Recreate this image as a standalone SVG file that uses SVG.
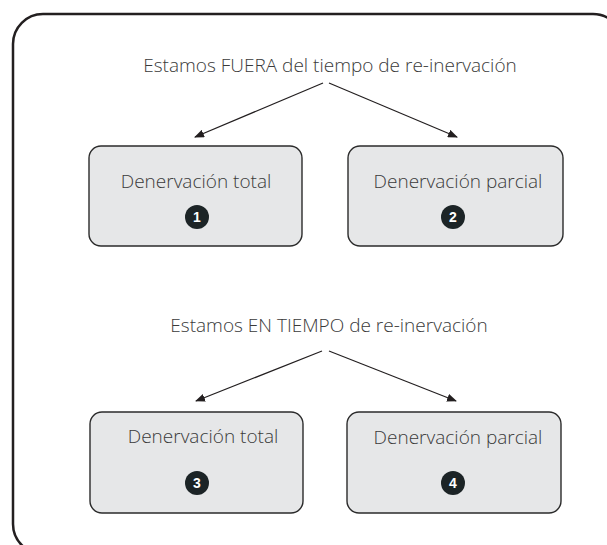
<svg xmlns="http://www.w3.org/2000/svg" width="607" height="545" viewBox="0 0 607 545">
<style>
.frame{fill:none;stroke:#231f20;stroke-width:2.5}
.box{fill:#e6e7e8;stroke:#2b2b2b;stroke-width:1.4}
.lbl{font-family:"Open Sans","Noto Sans",sans-serif;font-weight:300;fill:#3a3a3a;text-anchor:middle}
.t{font-size:19px}
.b{font-size:19px}
.dot{fill:#1c2426}
.num{font-family:"Liberation Sans",Arial,sans-serif;font-weight:bold;font-size:14px;fill:#fff;text-anchor:middle}
.con{stroke:#231f20;stroke-width:1.2;fill:none;marker-end:url(#ah)}
</style>
<defs>
<marker id="ah" viewBox="0 0 10 8" refX="9" refY="4" markerWidth="10" markerHeight="8" markerUnits="userSpaceOnUse" orient="auto">
<path d="M0,0 L10,4 L0,8 Z" fill="#231f20"/>
</marker>
</defs>
<rect class="frame" x="13" y="14" width="610" height="540" rx="30"/>
<g id="title1"><text class="lbl t" x="330" y="72">Estamos FUERA del tiempo de re-inervación</text></g>
<g id="title2"><text class="lbl t" x="329" y="332">Estamos EN TIEMPO de re-inervación</text></g>
<g id="connectors">
<line class="con" x1="323" y1="83" x2="195" y2="137"/>
<line class="con" x1="329" y1="83" x2="457" y2="137"/>
<line class="con" x1="322" y1="351" x2="196" y2="401"/>
<line class="con" x1="329" y1="351" x2="456" y2="401"/>
</g>
<g id="node1">
<rect class="box" x="89" y="146" width="213" height="100" rx="12"/>
<text class="lbl b" x="196" y="188">Denervación total</text>
<circle class="dot" cx="197" cy="217" r="12"/>
<text class="num" x="197" y="222">1</text>
</g>
<g id="node2">
<rect class="box" x="348" y="146" width="215" height="100" rx="12"/>
<text class="lbl b" x="458" y="188">Denervación parcial</text>
<circle class="dot" cx="453" cy="217" r="12"/>
<text class="num" x="453" y="222">2</text>
</g>
<g id="node3">
<rect class="box" x="90" y="412" width="213" height="101" rx="12"/>
<text class="lbl b" x="203" y="443">Denervación total</text>
<circle class="dot" cx="197" cy="483" r="12"/>
<text class="num" x="197" y="488">3</text>
</g>
<g id="node4">
<rect class="box" x="347" y="412" width="214" height="101" rx="12"/>
<text class="lbl b" x="458" y="444">Denervación parcial</text>
<circle class="dot" cx="453" cy="483" r="12"/>
<text class="num" x="453" y="488">4</text>
</g>
</svg>
